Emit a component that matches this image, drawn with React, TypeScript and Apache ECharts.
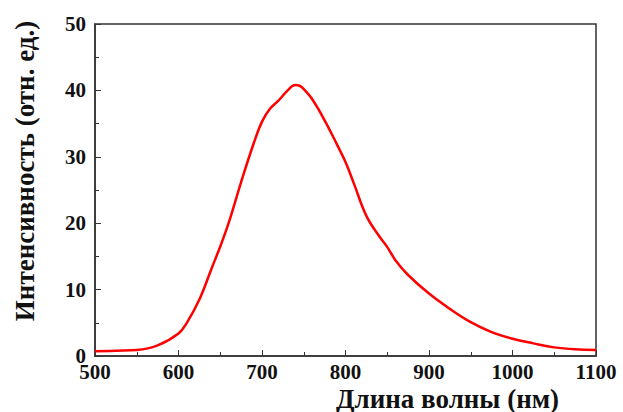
import React, { useEffect, useRef } from "react";
import * as echarts from "echarts";

const wavelengths = [500, 525, 550, 575, 600, 610, 625, 640, 650, 660, 675, 690, 700, 710, 720, 730, 740, 745, 750, 760, 775, 790, 800, 810, 825, 840, 850, 860, 875, 900, 925, 950, 975, 1000, 1025, 1050, 1075, 1100];
const intensity = [0.7, 0.8, 0.9, 1.6, 3.4, 5.0, 8.5, 13.3, 16.5, 20.0, 26.2, 32.0, 35.3, 37.3, 38.5, 39.9, 40.8, 40.7, 40.2, 38.7, 35.5, 31.8, 29.2, 26.0, 21.1, 18.1, 16.4, 14.4, 12.2, 9.4, 7.1, 5.1, 3.6, 2.6, 1.9, 1.3, 1.0, 0.9];
const xTitle = "Длина волны (нм)";
const yTitle = "Интенсивность (отн. ед.)";

export default function App() {
  const ref = useRef<HTMLDivElement>(null);
  useEffect(() => {
    if (!ref.current) return;
    const chart = echarts.init(ref.current, null, { renderer: "svg" });
    const font = "Liberation Serif";
    chart.setOption({
      animation: false,
      backgroundColor: "#ffffff",
      grid: { left: 95, right: 27, top: 24, bottom: 56, show: true, borderColor: "#333", borderWidth: 1.5 },
      xAxis: {
        type: "value",
        min: 500,
        max: 1100,
        interval: 100,
        axisLine: { show: true, lineStyle: { color: "#333", width: 1.5 } },
        axisTick: { show: true, inside: true, length: 6, lineStyle: { color: "#333", width: 1 } },
        minorTick: { show: true, splitNumber: 2, length: 4, lineStyle: { color: "#333", width: 1 } },
        splitLine: { show: false },
        axisLabel: { color: "#111", fontFamily: font, fontWeight: "bold", fontSize: 21, margin: 6, lineHeight: 20, formatter: (v: number) => String(v) },
      },
      yAxis: {
        type: "value",
        min: 0,
        max: 50,
        interval: 10,
        axisLine: { show: true, lineStyle: { color: "#333", width: 1.5 } },
        axisTick: { show: true, inside: true, length: 6, lineStyle: { color: "#333", width: 1 } },
        minorTick: { show: true, splitNumber: 2, length: 4, lineStyle: { color: "#333", width: 1 } },
        splitLine: { show: false },
        axisLabel: { color: "#111", fontFamily: font, fontWeight: "bold", fontSize: 21, margin: 9, verticalAlign: "middle", lineHeight: 12 },
      },
      graphic: [
        {
          type: "text",
          left: 336,
          top: 385,
          style: { text: xTitle, fill: "#111", fontFamily: font, fontWeight: "bold", fontSize: 27, lineHeight: 27 },
        },
        {
          type: "text",
          x: 11,
          y: 171,
          rotation: Math.PI / 2,
          style: { text: yTitle, fill: "#111", fontFamily: font, fontWeight: "bold", fontSize: 27, align: "center", verticalAlign: "top" },
        },
      ],
      series: [
        {
          type: "line",
          data: wavelengths.map((w, i) => [w, intensity[i]]),
          smooth: 0.4,
          showSymbol: false,
          lineStyle: { color: "#ff0000", width: 2.5 },
        },
      ],
    });
    return () => chart.dispose();
  }, []);
  return <div ref={ref} style={{ width: 623, height: 412, position: "absolute", left: 0, top: 0 }} />;
}
